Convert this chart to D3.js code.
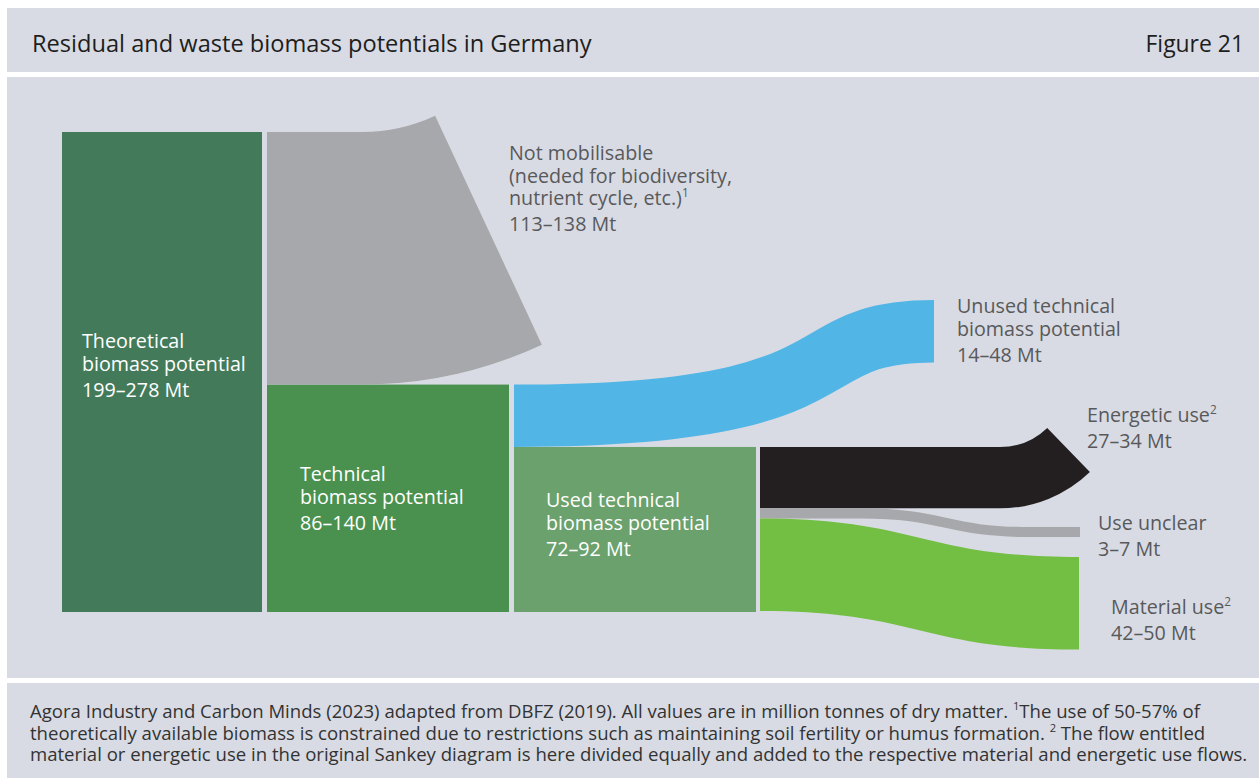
<!DOCTYPE html>
<html><head><meta charset="utf-8">
<script src="https://cdn.jsdelivr.net/npm/d3@7"></script>
<style>
body{margin:0;background:#fff;}
svg{display:block;}
text{font-family:"Open Sans",sans-serif;}
</style>
</head><body>
<svg id="c" width="1259" height="778"></svg>
<script>
// ---------------- data ----------------
const titleText = "Residual and waste biomass potentials in Germany";
const figureLabel = "Figure 21";
const unit = "Mt";
// stock nodes (bars)
const nodeNames = [["Theoretical", "biomass potential"], ["Technical", "biomass potential"], ["Used technical", "biomass potential"]];
const nodeLow  = [199, 86, 72];
const nodeHigh = [278, 140, 92];
// flows leaving the nodes
const flowNames = [["Not mobilisable", "(needed for biodiversity,", "nutrient cycle, etc.)¹"], ["Unused technical", "biomass potential"], ["Energetic use²"], ["Use unclear"], ["Material use²"]];
const flowLow  = [113, 14, 27, 3, 42];
const flowHigh = [138, 48, 34, 7, 50];
const flowSource = [0, 1, 2, 2, 2];
const sourceLines = [
  "Agora Industry and Carbon Minds (2023) adapted from DBFZ (2019). All values are in million tonnes of dry matter. ¹The use of 50-57% of",
  "theoretically available biomass is constrained due to restrictions such as maintaining soil fertility or humus formation. ² The flow entitled",
  "material or energetic use in the original Sankey diagram is here divided equally and added to the respective material and energetic use flows."
];

// ---------------- styles / layout ----------------
const W = 1259, H = 778;
const panelFill = "#d8dbe3";
const nodeColors = ["#437b5a", "#4a914f", "#6ba16c"];
const flowColors = ["#a7a8ab", "#51b5e6", "#231f20", "#a7a8ab", "#72bf44"];
const labelGrey = "#58595b";
const baseY = 612, topY = 132;
const colX = [62, 267, 514, 760];
const colW = [200, 242, 242];
const flowShape = [
  {type: "bend", straight: 95, r: 173, angle: 25},
  {type: "stroke", x1: 934, y1: 300, k1: 0.85, k2: 0.65},
  {type: "bend", straight: 240, r: 68, angle: 44},
  {type: "stroke", x1: 1080, y1: 527, xc0: 860, xc1: 1030},
  {type: "fill", x1: 1079, y1: 557}
];
const nodeLabelPos = [[82, 348], [300, 481], [546, 507]];
const flowLabelPos = [[509, 160], [957, 313], [1087, 422], [1098, 530], [1111, 614]];

const mid = (lo, hi) => (lo + hi) / 2;
const fmt = (lo, hi) => `${lo}–${hi} ${unit}`;
const supMap = {"¹": "1", "²": "2"};

const svg = d3.select("#c");

// panels
svg.append("rect").attr("x", 7).attr("y", 8).attr("width", W - 7).attr("height", 64).attr("fill", panelFill);
svg.append("rect").attr("x", 7).attr("y", 77).attr("width", W - 7).attr("height", 601).attr("fill", panelFill);
svg.append("rect").attr("x", 7).attr("y", 683).attr("width", W - 7).attr("height", H - 683).attr("fill", panelFill);

// fit helper
function fitSize(txt, target) {
  const t = svg.append("text").attr("font-size", 100).text(txt);
  const w = t.node().getComputedTextLength();
  t.remove();
  return 100 * target / w;
}
// rich text: superscript markers become small raised tspans
function rich(parent, str, size, x, y) {
  const parts = str.split(/([¹²])/).filter(s => s !== "");
  const shift = size * 0.42;
  let raised = false;
  parts.forEach((p, k) => {
    const ts = parent.append("tspan");
    if (k === 0) ts.attr("x", x).attr("y", y);
    if (supMap[p]) {
      ts.attr("font-size", size * 0.6).attr("dy", -shift).text(supMap[p]);
      raised = true;
    } else {
      if (raised) { ts.attr("dy", shift); raised = false; }
      ts.text(p);
    }
  });
}

const titleSize = Math.min(24, fitSize(titleText, 560));
svg.append("text").attr("x", 32).attr("y", 52).attr("font-size", titleSize).attr("fill", "#1e1e1e").text(titleText);
svg.append("text").attr("x", 1244).attr("y", 52).attr("text-anchor", "end").attr("font-size", titleSize * 0.97).attr("fill", "#1e1e1e").text(figureLabel);

// scale value -> pixels
const hScale = d3.scaleLinear().domain([0, mid(nodeLow[0], nodeHigh[0])]).range([0, baseY - topY]);

const g = svg.append("g");

// nodes
const nodes = nodeNames.map((n, i) => {
  const h = hScale(mid(nodeLow[i], nodeHigh[i]));
  return {i, x: colX[i], w: colW[i], y: baseY - h, h};
});
g.selectAll("rect.node").data(nodes).join("rect").attr("class", "node")
  .attr("x", d => d.x).attr("y", d => d.y).attr("width", d => d.w).attr("height", d => d.h)
  .attr("fill", d => nodeColors[d.i]);

// flows: stack from node top
const cursor = nodes.map(n => n.y);
const flows = flowNames.map((n, i) => {
  const s = flowSource[i];
  const h = hScale(mid(flowLow[i], flowHigh[i]));
  const y0 = cursor[s];
  cursor[s] += h;
  return {i, x0: colX[s + 1], y0, h, shape: flowShape[i]};
});

function bendPath(d) {
  const {x0, y0, h} = d; const {straight, r, angle} = d.shape;
  const a = angle * Math.PI / 180;
  const xb = x0 + straight, cy = y0 - r, R = r + h;
  const p = d3.path();
  p.moveTo(x0, y0);
  p.lineTo(xb, y0);
  p.arc(xb, cy, r, Math.PI / 2, Math.PI / 2 - a, true);
  p.lineTo(xb + R * Math.sin(a), cy + R * Math.cos(a));
  p.arc(xb, cy, R, Math.PI / 2 - a, Math.PI / 2, false);
  p.lineTo(x0, y0 + h);
  p.closePath();
  return p.toString();
}
function centerLine(x0, ys, x1, ye, s) {
  const xc0 = s.xc0 ?? x0, xc1 = s.xc1 ?? x1;
  const k1 = s.k1 ?? 0.5, k2 = s.k2 ?? 0.5;
  const p = d3.path();
  p.moveTo(x0, ys);
  if (xc0 > x0) p.lineTo(xc0, ys);
  p.bezierCurveTo(xc0 + k1 * (xc1 - xc0), ys, xc0 + k2 * (xc1 - xc0), ye, xc1, ye);
  if (x1 > xc1) p.lineTo(x1, ye);
  return p.toString();
}
function fillPath(d) {
  const s = d.shape, x0 = d.x0, x1 = s.x1, y0 = d.y0, y1 = s.y1, h = d.h;
  const xc0 = s.xc0 ?? x0, xc1 = s.xc1 ?? x1;
  const mx = (xc0 + xc1) / 2;
  const p = d3.path();
  p.moveTo(x0, y0);
  if (xc0 > x0) p.lineTo(xc0, y0);
  p.bezierCurveTo(mx, y0, mx, y1, xc1, y1);
  p.lineTo(x1, y1);
  p.lineTo(x1, y1 + h);
  p.lineTo(xc1, y1 + h);
  p.bezierCurveTo(mx, y1 + h, mx, y0 + h, xc0, y0 + h);
  p.lineTo(x0, y0 + h);
  p.closePath();
  return p.toString();
}

flows.forEach(d => {
  const c = flowColors[d.i];
  if (d.shape.type === "bend") {
    g.append("path").attr("d", bendPath(d)).attr("fill", c);
  } else if (d.shape.type === "fill") {
    g.append("path").attr("d", fillPath(d)).attr("fill", c);
  } else {
    g.append("path").attr("d", centerLine(d.x0, d.y0 + d.h / 2, d.shape.x1, d.shape.y1 + d.h / 2, d.shape))
      .attr("fill", "none").attr("stroke", c).attr("stroke-width", d.h).attr("stroke-linecap", "butt");
  }
});

// labels
const labelSize = fitSize("biomass potential", 164);
function block(x, y, lines, value, color) {
  lines.forEach((l, k) => {
    const t = svg.append("text").attr("font-size", labelSize).attr("fill", color);
    rich(t, l, labelSize, x, y + k * 22.5);
  });
  svg.append("text").attr("x", x).attr("y", y + (lines.length - 1) * 22.5 + 26)
    .attr("font-size", labelSize).attr("fill", color).text(value);
}
nodes.forEach(d => block(nodeLabelPos[d.i][0], nodeLabelPos[d.i][1], nodeNames[d.i], fmt(nodeLow[d.i], nodeHigh[d.i]), "#ffffff"));
flows.forEach(d => block(flowLabelPos[d.i][0], flowLabelPos[d.i][1], flowNames[d.i], fmt(flowLow[d.i], flowHigh[d.i]), labelGrey));

// footer
const footSize = fitSize(sourceLines[2], 1218);
sourceLines.forEach((l, k) => {
  const t = svg.append("text").attr("font-size", footSize).attr("fill", "#333333");
  rich(t, l, footSize, 30, 718 + k * 21.5);
});
</script>
</body></html>
